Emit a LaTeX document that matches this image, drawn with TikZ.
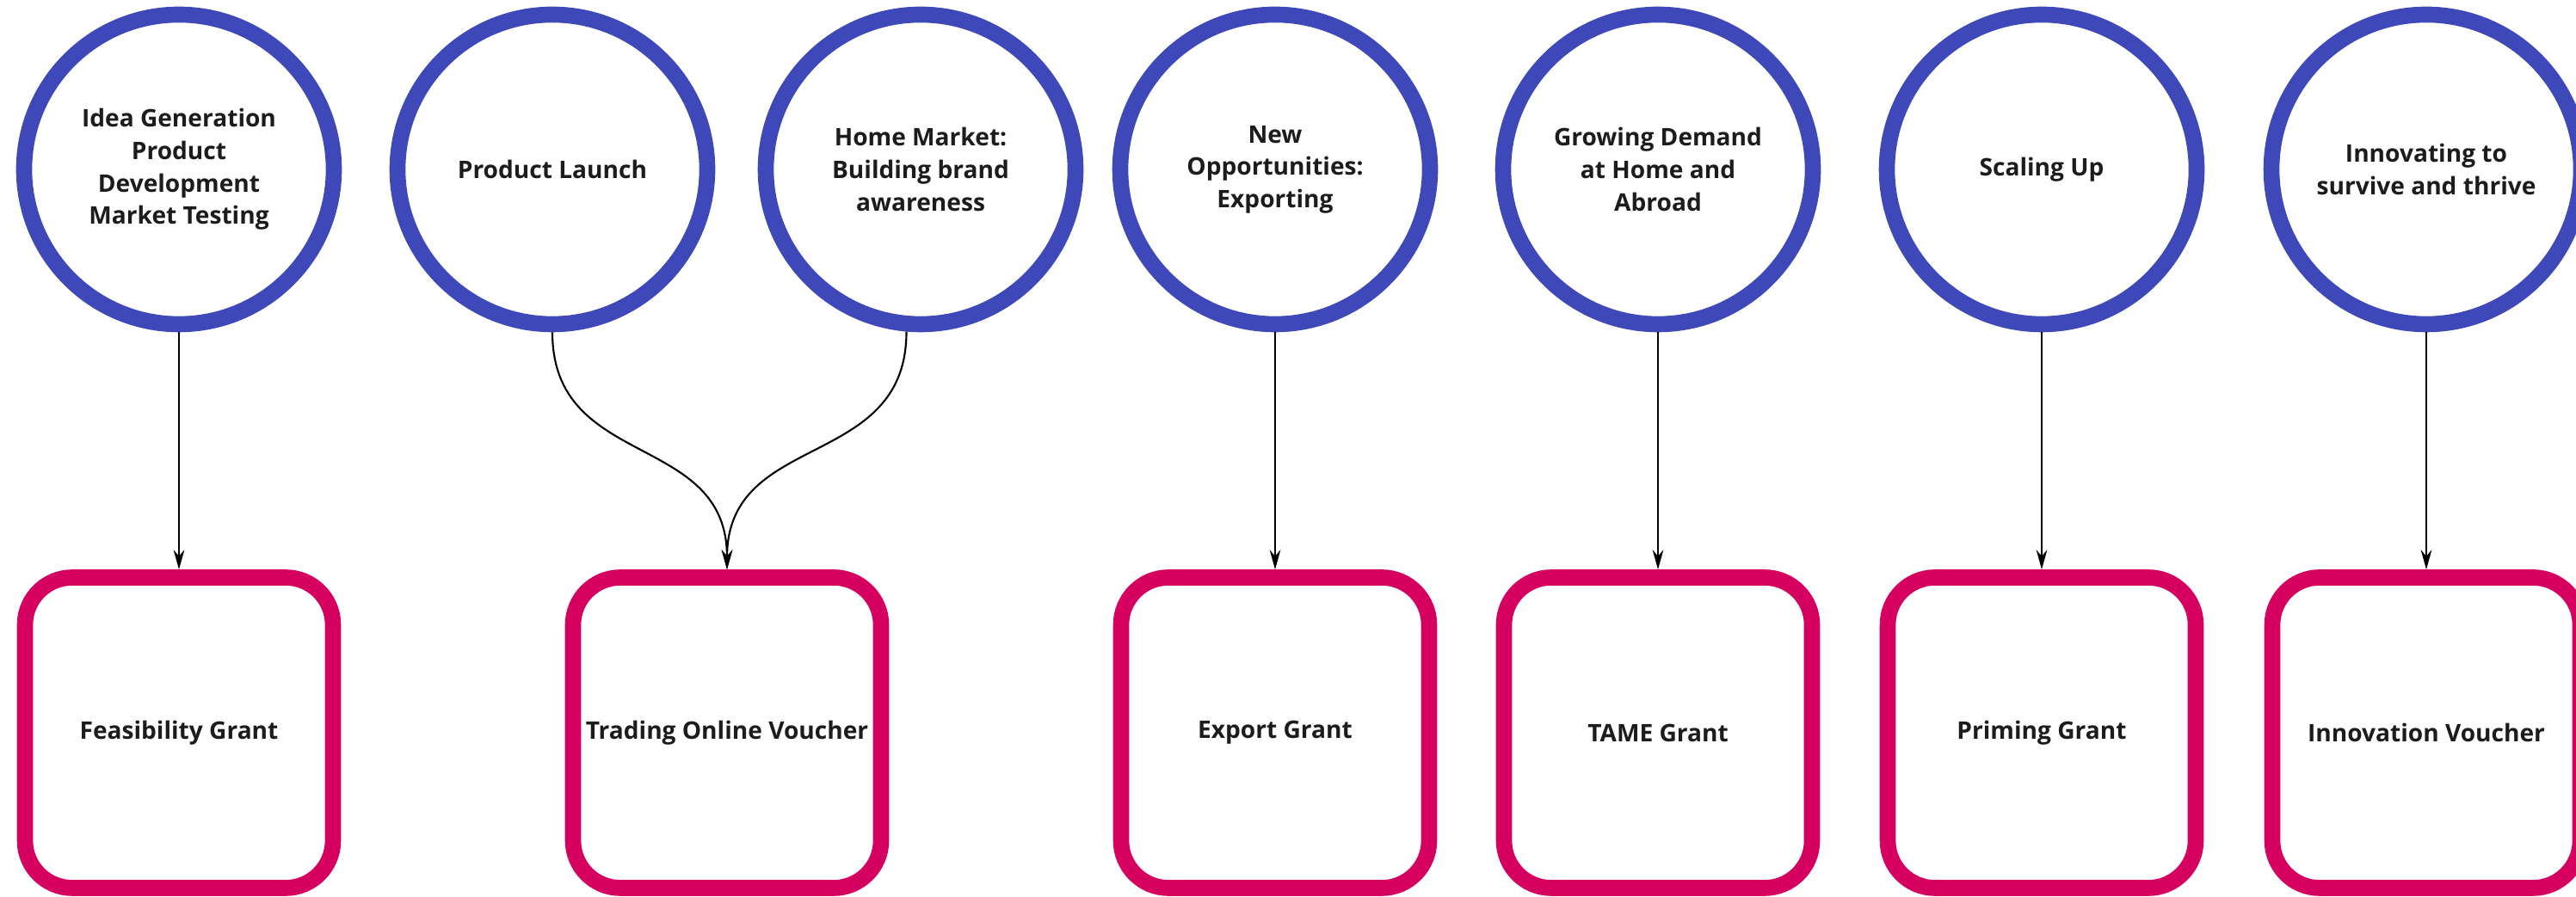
\documentclass[tikz,border=0pt]{standalone}
\usepackage{fontspec}
\setmainfont{Open Sans}
\usetikzlibrary{arrows.meta}
\definecolor{stageblue}{RGB}{63,72,184}
\definecolor{grantpink}{RGB}{213,0,95}
\definecolor{labelgray}{RGB}{28,28,28}

\begin{document}
\begin{tikzpicture}[
  >={Stealth[length=6.5pt,width=3.6pt]},
  stage/.style={circle,draw=stageblue,line width=5.3pt,minimum size=3.6cm,inner sep=0pt,
    align=center,text=labelgray,font=\fontsize{8}{10.7}\selectfont\bfseries},
  grant/.style={rectangle,rounded corners=0.55cm,draw=grantpink,line width=5.3pt,
    minimum width=3.58cm,minimum height=3.61cm,inner sep=0pt,
    align=center,text=labelgray,font=\fontsize{8}{10.7}\selectfont\bfseries},
  link/.style={->,line width=0.6pt}
]
\useasboundingbox (0,0) rectangle (29.94,10.43);

% stages of growth
\node[stage] (idea) at (2.08,8.46) {Idea Generation\\Product\\Development\\Market Testing};
\node[stage] (launch) at (6.42,8.46) {Product Launch};
\node[stage] (home) at (10.70,8.46) {Home Market:\\Building brand\\awareness};
\node[stage] (export) at (14.82,8.46) {New\\Opportunities:\\Exporting};
\node[stage] (demand) at (19.27,8.46) {Growing Demand\\at Home and\\Abroad};
\node[stage] (scale) at (23.73,8.46) {Scaling Up};
\node[stage] (innov) at (28.20,8.46) {Innovating to\\survive and thrive};

% grants
\node[grant] (feas) at (2.08,1.91) {Feasibility Grant};
\node[grant] (online) at (8.45,1.91) {Trading Online Voucher};
\node[grant] (expgrant) at (14.82,1.91) {Export Grant};
\node[grant] (tame) at (19.27,1.91) {TAME Grant};
\node[grant] (priming) at (23.73,1.91) {Priming Grant};
\node[grant] (voucher) at (28.20,1.91) {Innovation Voucher};

\draw[link] (idea.south) -- (feas.north);
\draw[link] (launch.south) to[out=-90,in=90,looseness=1.2] (online.north);
\draw[link] (home.-95) to[out=-90,in=90,looseness=1.2] (online.north);
\draw[link] (export.south) -- (expgrant.north);
\draw[link] (demand.south) -- (tame.north);
\draw[link] (scale.south) -- (priming.north);
\draw[link] (innov.south) -- (voucher.north);
\end{tikzpicture}
\end{document}
